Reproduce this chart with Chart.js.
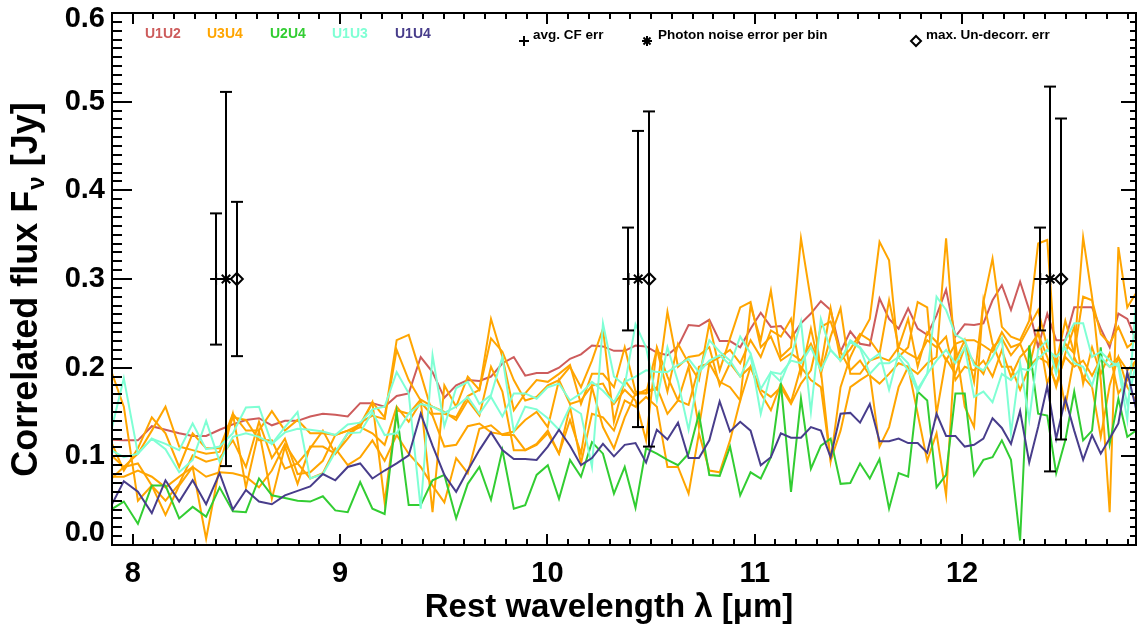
<!DOCTYPE html>
<html>
<head>
<meta charset="utf-8">
<script src="https://cdn.jsdelivr.net/npm/chart.js@4.4.1/dist/chart.umd.min.js"></script>
<style>
  html, body { margin: 0; padding: 0; background: #fff; overflow: hidden; }
  #wrap { width: 1138px; height: 630px; position: relative; }
  canvas { display: block; }
</style>
</head>
<body>
<div id="wrap"><canvas id="chart"></canvas></div>
<script>
// rest wavelength grid (micron), shared by all baselines
const wavelength = [
  7.889, 7.957, 8.025, 8.092, 8.158, 8.224, 8.289, 8.354, 8.419, 8.483,
  8.546, 8.609, 8.671, 8.734, 8.795, 8.856, 8.917, 8.977, 9.037, 9.097,
  9.156, 9.215, 9.273, 9.331, 9.389, 9.446, 9.503, 9.560, 9.616, 9.672,
  9.728, 9.783, 9.838, 9.893, 9.948, 10.002, 10.056, 10.109, 10.162, 10.215,
  10.268, 10.321, 10.373, 10.425, 10.476, 10.528, 10.579, 10.630, 10.681, 10.731,
  10.781, 10.831, 10.881, 10.930, 10.980, 11.029, 11.078, 11.126, 11.175, 11.223,
  11.271, 11.319, 11.366, 11.414, 11.461, 11.508, 11.555, 11.602, 11.648, 11.694,
  11.740, 11.786, 11.832, 11.877, 11.923, 11.968, 12.013, 12.058, 12.103, 12.147,
  12.192, 12.236, 12.280, 12.324, 12.367, 12.411, 12.454, 12.498, 12.541, 12.584,
  12.627, 12.669, 12.712, 12.754, 12.797, 12.839, 12.881
];

const u1u2 = [
  0.119, 0.118, 0.118, 0.134, 0.130, 0.126, 0.123, 0.123, 0.130, 0.136,
  0.141, 0.143, 0.135, 0.140, 0.140, 0.145, 0.148, 0.147, 0.145, 0.160,
  0.160, 0.156, 0.168, 0.171, 0.212, 0.195, 0.166, 0.180, 0.186, 0.185,
  0.190, 0.205, 0.212, 0.191, 0.194, 0.194, 0.200, 0.210, 0.215, 0.225,
  0.224, 0.219, 0.219, 0.225, 0.224, 0.217, 0.214, 0.224, 0.248, 0.247,
  0.254, 0.230, 0.230, 0.223, 0.244, 0.262, 0.246, 0.247, 0.233, 0.250,
  0.261, 0.275, 0.265, 0.218, 0.241, 0.227, 0.225, 0.278, 0.255, 0.244,
  0.267, 0.244, 0.237, 0.259, 0.288, 0.235, 0.249, 0.248, 0.250, 0.276,
  0.293, 0.265, 0.297, 0.265, 0.223, 0.261, 0.231, 0.231, 0.268, 0.268,
  0.268, 0.244, 0.223, 0.261, 0.255, 0.231, 0.235
];

// five U3U4 spectra
const u3u4a = [
  0.201, 0.156, 0.050, 0.067, 0.034, 0.067, 0.088, 0.007, 0.088, 0.148, 0.065, 0.129, 0.052, 0.111, 0.069, 0.111,
  0.111, 0.103, 0.120, 0.138, 0.146, 0.142, 0.220, 0.186, 0.163, 0.037, 0.180, 0.156, 0.190, 0.175, 0.233, 0.218, 0.186,
  0.163, 0.167, 0.180, 0.186, 0.201, 0.178, 0.208, 0.244, 0.139, 0.186, 0.169, 0.175, 0.175, 0.263, 0.201, 0.212, 0.214, 0.223, 0.180, 0.205,
  0.190, 0.201, 0.175, 0.167, 0.178, 0.159, 0.182, 0.197, 0.246, 0.252, 0.218, 0.197, 0.208, 0.191, 0.182, 0.193, 0.205, 0.201, 0.193, 0.205, 0.212,
  0.346, 0.208, 0.231, 0.184, 0.274, 0.323, 0.246, 0.235, 0.231, 0.253, 0.340, 0.344, 0.199, 0.227, 0.216, 0.347, 0.280, 0.186, 0.037, 0.336, 0.268, 0.284, 0.261
];
const u3u4b = [
  0.120, 0.084, 0.109, 0.144, 0.126, 0.088, 0.126, 0.109, 0.109, 0.148, 0.129, 0.129, 0.151, 0.129, 0.141, 0.126,
  0.126, 0.124, 0.129, 0.136, 0.161, 0.144, 0.231, 0.237, 0.193, 0.148, 0.148, 0.144, 0.168, 0.175, 0.255, 0.212, 0.152,
  0.171, 0.186, 0.184, 0.193, 0.203, 0.159, 0.193, 0.193, 0.178, 0.223, 0.173, 0.171, 0.221, 0.173, 0.227, 0.205, 0.186, 0.250, 0.197, 0.233,
  0.268, 0.274, 0.223, 0.235, 0.208, 0.216, 0.208, 0.227, 0.201, 0.267, 0.208, 0.221, 0.238, 0.231, 0.216, 0.276, 0.223, 0.255, 0.201, 0.240, 0.229,
  0.208, 0.227, 0.231, 0.231, 0.225, 0.218, 0.240, 0.223, 0.227, 0.246, 0.265, 0.223, 0.205, 0.253, 0.216, 0.280, 0.276, 0.238, 0.227, 0.246, 0.223, 0.231, 0.246
];
const u3u4c = [
  0.103, 0.088, 0.103, 0.129, 0.156, 0.111, 0.107, 0.103, 0.105, 0.144, 0.141, 0.118, 0.118, 0.086, 0.092, 0.109,
  0.129, 0.103, 0.126, 0.133, 0.161, 0.048, 0.152, 0.148, 0.164, 0.156, 0.150, 0.141, 0.163, 0.146, 0.201, 0.173, 0.107,
  0.107, 0.113, 0.126, 0.103, 0.156, 0.092, 0.148, 0.144, 0.129, 0.163, 0.156, 0.167, 0.156, 0.088, 0.088, 0.058, 0.126, 0.084, 0.082, 0.118,
  0.163, 0.201, 0.171, 0.152, 0.182, 0.161, 0.201, 0.186, 0.178, 0.095, 0.129, 0.178, 0.186, 0.193, 0.111, 0.133, 0.178, 0.201, 0.148, 0.095, 0.126,
  0.056, 0.227, 0.156, 0.133, 0.276, 0.227, 0.201, 0.201, 0.175, 0.201, 0.242, 0.182, 0.212, 0.156, 0.212, 0.190, 0.178, 0.122, 0.180, 0.212, 0.178, 0.163, 0.171
];
const u3u4d = [
  0.077, 0.077, 0.084, 0.077, 0.065, 0.077, 0.088, 0.077, 0.082, 0.081, 0.077, 0.065, 0.084, 0.114, 0.092, 0.075,
  0.081, 0.109, 0.090, 0.099, 0.118, 0.095, 0.124, 0.103, 0.088, 0.067, 0.048, 0.098, 0.081, 0.131, 0.135, 0.124, 0.124,
  0.107, 0.114, 0.129, 0.103, 0.141, 0.103, 0.178, 0.133, 0.109, 0.144, 0.171, 0.171, 0.178, 0.148, 0.163, 0.201, 0.133, 0.205, 0.184, 0.178,
  0.163, 0.270, 0.231, 0.287, 0.212, 0.223, 0.346, 0.276, 0.197, 0.095, 0.178, 0.212, 0.235, 0.255, 0.342, 0.321, 0.212, 0.223, 0.274, 0.268, 0.148,
  0.210, 0.193, 0.223, 0.206, 0.193, 0.223, 0.233, 0.214, 0.227, 0.201, 0.212, 0.206, 0.182, 0.212, 0.201, 0.208, 0.191, 0.210, 0.201, 0.212, 0.197, 0.208, 0.210
];
const u3u4e = [
  0.073, 0.088, 0.092, 0.067, 0.050, 0.069, 0.101, 0.094, 0.098, 0.118, 0.088, 0.139, 0.098, 0.120, 0.080, 0.082,
  0.095, 0.124, 0.129, 0.133, 0.126, 0.113, 0.156, 0.139, 0.161, 0.146, 0.111, 0.113, 0.134, 0.137, 0.127, 0.125, 0.128,
  0.141, 0.150, 0.133, 0.186, 0.159, 0.163, 0.180, 0.182, 0.159, 0.175, 0.163, 0.118, 0.223, 0.190, 0.163, 0.158, 0.201, 0.205, 0.212, 0.220,
  0.205, 0.231, 0.212, 0.242, 0.235, 0.255, 0.193, 0.244, 0.193, 0.235, 0.267, 0.193, 0.193, 0.208, 0.212, 0.208, 0.223, 0.216, 0.210, 0.231, 0.223,
  0.235, 0.186, 0.201, 0.197, 0.208, 0.190, 0.220, 0.190, 0.212, 0.223, 0.238, 0.212, 0.178, 0.216, 0.246, 0.182, 0.223, 0.193, 0.216, 0.171, 0.186, 0.208, 0.201
];

const u2u4 = [
  0.039, 0.049, 0.024, 0.067, 0.067, 0.030, 0.043, 0.032, 0.065, 0.038,
  0.037, 0.075, 0.056, 0.053, 0.050, 0.049, 0.055, 0.039, 0.037, 0.071,
  0.041, 0.035, 0.150, 0.045, 0.045, 0.073, 0.079, 0.030, 0.069, 0.088,
  0.051, 0.107, 0.041, 0.045, 0.079, 0.090, 0.052, 0.096, 0.077, 0.116,
  0.103, 0.058, 0.088, 0.042, 0.109, 0.103, 0.096, 0.090, 0.103, 0.148,
  0.079, 0.078, 0.111, 0.056, 0.082, 0.075, 0.099, 0.182, 0.060, 0.165,
  0.086, 0.112, 0.120, 0.069, 0.070, 0.092, 0.075, 0.097, 0.041, 0.081,
  0.077, 0.173, 0.163, 0.065, 0.079, 0.171, 0.171, 0.079, 0.096, 0.099,
  0.118, 0.096, 0.005, 0.225, 0.148, 0.146, 0.081, 0.118, 0.173, 0.118,
  0.129, 0.223, 0.114, 0.165, 0.122, 0.129, 0.148
];

const u1u3a = [
  0.122, 0.188, 0.103, 0.120, 0.114, 0.107, 0.137, 0.108, 0.111, 0.126,
  0.155, 0.156, 0.114, 0.127, 0.131, 0.130, 0.128, 0.124, 0.136, 0.138,
  0.153, 0.156, 0.195, 0.171, 0.041, 0.214, 0.134, 0.177, 0.184, 0.159,
  0.169, 0.212, 0.128, 0.156, 0.153, 0.143, 0.130, 0.156, 0.148, 0.088,
  0.250, 0.190, 0.180, 0.249, 0.223, 0.163, 0.223, 0.184, 0.130, 0.193,
  0.231, 0.218, 0.208, 0.190, 0.214, 0.148, 0.195, 0.184, 0.212, 0.252,
  0.150, 0.255, 0.220, 0.208, 0.231, 0.223, 0.208, 0.216, 0.175, 0.216,
  0.205, 0.176, 0.193, 0.280, 0.265, 0.237, 0.231, 0.203, 0.197, 0.212,
  0.233, 0.126, 0.205, 0.141, 0.220, 0.231, 0.193, 0.231, 0.250, 0.250,
  0.212, 0.218, 0.208, 0.201, 0.141, 0.274, 0.261
];
const u1u3b = [
  0.108, 0.099, 0.103, 0.120, 0.108, 0.082, 0.096, 0.140, 0.094, 0.122,
  0.126, 0.122, 0.114, 0.133, 0.150, 0.075, 0.080, 0.105, 0.126, 0.127,
  0.150, 0.124, 0.126, 0.148, 0.159, 0.156, 0.149, 0.156, 0.167, 0.148,
  0.167, 0.145, 0.171, 0.171, 0.165, 0.178, 0.182, 0.163, 0.171, 0.184,
  0.174, 0.161, 0.184, 0.190, 0.197, 0.195, 0.195, 0.203, 0.210, 0.195,
  0.208, 0.214, 0.203, 0.235, 0.216, 0.176, 0.195, 0.193, 0.208, 0.205,
  0.223, 0.197, 0.220, 0.208, 0.229, 0.222, 0.193, 0.205, 0.205, 0.212,
  0.197, 0.173, 0.193, 0.208, 0.220, 0.205, 0.223, 0.167, 0.173, 0.161,
  0.193, 0.186, 0.199, 0.197, 0.210, 0.220, 0.212, 0.222, 0.205, 0.201,
  0.180, 0.212, 0.201, 0.205, 0.159, 0.205, 0.197
];

const u1u4 = [
  0.041, 0.072, 0.060, 0.036, 0.073, 0.049, 0.073, 0.046, 0.081, 0.040,
  0.062, 0.049, 0.046, 0.056, 0.061, 0.066, 0.080, 0.073, 0.088, 0.092,
  0.075, 0.084, 0.092, 0.101, 0.148, 0.112, 0.079, 0.060, 0.084, 0.107,
  0.127, 0.107, 0.097, 0.097, 0.096, 0.111, 0.130, 0.112, 0.090, 0.098,
  0.114, 0.100, 0.113, 0.115, 0.093, 0.130, 0.119, 0.138, 0.098, 0.098,
  0.118, 0.162, 0.128, 0.139, 0.129, 0.090, 0.099, 0.126, 0.121, 0.121,
  0.133, 0.129, 0.099, 0.148, 0.149, 0.138, 0.159, 0.117, 0.117, 0.120,
  0.115, 0.115, 0.104, 0.148, 0.123, 0.123, 0.111, 0.113, 0.120, 0.143,
  0.132, 0.114, 0.151, 0.093, 0.133, 0.179, 0.120, 0.165, 0.129, 0.096,
  0.124, 0.103, 0.120, 0.137, 0.195, 0.154, 0.126
];

// error markers: avg. CF err (+), photon noise (*), max. un-decorrelated err (diamond)
const markerY = [0.3, 0.3, 0.3];
const cfX = [8.402, 10.391, 12.377];
const cfErr = [0.074, 0.058, 0.058];
const phX = [8.450, 10.438, 12.425];
const phErr = [0.211, 0.167, 0.217];
const ucX = [8.502, 10.491, 12.478];
const ucErr = [0.087, 0.189, 0.181];

const xTicks = [8, 9, 10, 11, 12];
const yTicks = [0, 0.1, 0.2, 0.3, 0.4, 0.5, 0.6];

const baselineNames = ['U1U2', 'U3U4', 'U2U4', 'U1U3', 'U1U4'];
const baselineColors = ['#cd5c5c', '#ffa500', '#32cd32', '#7fffd4', '#483d8b'];
const errNames = ['avg. CF err', 'Photon noise error per bin', 'max. Un-decorr. err'];

const FONT = "'Liberation Sans', Arial, Helvetica, sans-serif";

const pts = arr => wavelength.map((w, i) => ({ x: w, y: arr[i] }));
const spec = (arr, color) => ({
  data: pts(arr), borderColor: color, borderWidth: 2,
  pointRadius: 0, fill: false, tension: 0
});
const marks = (xs, style, r) => ({
  data: xs.map((x, i) => ({ x: x, y: markerY[i] })),
  showLine: false, pointStyle: style, pointRadius: r,
  pointBorderColor: '#000', pointBackgroundColor: 'rgba(0,0,0,0)', pointBorderWidth: 2
});

// first dataset ends up on top in Chart.js
const datasets = [
  marks(cfX, 'cross', 6),
  marks(phX, 'star', 6),
  marks(ucX, 'rectRot', 6),
  spec(u1u4, baselineColors[4]),
  spec(u1u3a, baselineColors[3]),
  spec(u1u3b, baselineColors[3]),
  spec(u2u4, baselineColors[2]),
  spec(u3u4a, baselineColors[1]),
  spec(u3u4b, baselineColors[1]),
  spec(u3u4c, baselineColors[1]),
  spec(u3u4d, baselineColors[1]),
  spec(u3u4e, baselineColors[1]),
  spec(u1u2, baselineColors[0])
];

function seg(ctx, x1, y1, x2, y2) {
  ctx.beginPath(); ctx.moveTo(x1, y1); ctx.lineTo(x2, y2); ctx.stroke();
}

const decorations = {
  id: 'decorations',
  afterDatasetsDraw(chart) {
    const { ctx, chartArea: a, scales: { x, y } } = chart;
    ctx.save();
    ctx.strokeStyle = '#000';
    ctx.lineWidth = 2;

    // error bars
    [[cfX, cfErr], [phX, phErr], [ucX, ucErr]].forEach(([xs, errs]) => {
      xs.forEach((xv, i) => {
        const px = Math.round(x.getPixelForValue(xv));
        const t = y.getPixelForValue(markerY[i] + errs[i]);
        const b = y.getPixelForValue(markerY[i] - errs[i]);
        seg(ctx, px, t, px, b);
        seg(ctx, px - 6, t, px + 6, t);
        seg(ctx, px - 6, b, px + 6, b);
      });
    });

    // frame
    ctx.strokeRect(a.left, a.top, a.right - a.left, a.bottom - a.top);

    // inward ticks, x: every 0.1, major at integers
    for (let i = 79; i <= 128; i++) {
      const px = Math.round(x.getPixelForValue(i / 10));
      if (px <= a.left + 1 || px >= a.right - 1) continue;
      const len = i % 10 === 0 ? 11 : 6;
      seg(ctx, px, a.bottom, px, a.bottom - len);
      seg(ctx, px, a.top, px, a.top + len);
    }
    // y: every 0.01, major every 0.1
    for (let i = 1; i < 60; i++) {
      const py = Math.round(y.getPixelForValue(i / 100));
      const major = i % 10 === 0;
      seg(ctx, a.left, py, a.left + (major ? 20 : 10), py);
      seg(ctx, a.right, py, a.right - (major ? 15 : 6), py);
    }

    // y tick labels
    ctx.fillStyle = '#000';
    ctx.font = 'bold 29px ' + FONT;
    ctx.textAlign = 'right';
    ctx.textBaseline = 'middle';
    yTicks.forEach(v => {
      let py = y.getPixelForValue(v);
      py = Math.min(Math.max(py, a.top + 6), a.bottom - 12);
      ctx.fillText(v.toFixed(1), a.left - 7, py);
    });

    // baseline legend
    ctx.font = 'bold 14px ' + FONT;
    ctx.textAlign = 'left';
    const legX = [145, 207, 270, 332, 395];
    baselineNames.forEach((n, i) => {
      ctx.fillStyle = baselineColors[i];
      ctx.fillText(n, legX[i], 34);
    });

    // error legend
    ctx.fillStyle = '#000';
    ctx.font = 'bold 13.5px ' + FONT;
    const symX = [524, 647, 916];
    const txtX = [533, 658, 926];
    errNames.forEach((n, i) => ctx.fillText(n, txtX[i], 35));
    const sy = 41, r = 5;
    seg(ctx, symX[0] - r, sy, symX[0] + r, sy);
    seg(ctx, symX[0], sy - r, symX[0], sy + r);
    seg(ctx, symX[1] - r, sy, symX[1] + r, sy);
    seg(ctx, symX[1], sy - r, symX[1], sy + r);
    seg(ctx, symX[1] - 3.5, sy - 3.5, symX[1] + 3.5, sy + 3.5);
    seg(ctx, symX[1] - 3.5, sy + 3.5, symX[1] + 3.5, sy - 3.5);
    ctx.beginPath();
    ctx.moveTo(symX[2], sy - r); ctx.lineTo(symX[2] + r, sy);
    ctx.lineTo(symX[2], sy + r); ctx.lineTo(symX[2] - r, sy); ctx.closePath();
    ctx.stroke();

    // axis titles
    ctx.font = 'bold 33px ' + FONT;
    ctx.textAlign = 'center';
    ctx.textBaseline = 'alphabetic';
    ctx.fillText('Rest wavelength \u03BB [\u03BCm]', 609, 617);

    ctx.translate(37, 290);
    ctx.rotate(-Math.PI / 2);
    const p1 = 'Correlated flux F', p2 = '\u03BD', p3 = ' [Jy]';
    const big = 'bold 36px ' + FONT, small = 'bold 24px ' + FONT;
    ctx.font = big;
    const w1 = ctx.measureText(p1).width, w3 = ctx.measureText(p3).width;
    ctx.font = small;
    const w2 = ctx.measureText(p2).width;
    const sx = -(w1 + w2 + w3) / 2;
    ctx.textAlign = 'left';
    ctx.font = big;
    ctx.fillText(p1, sx, 0);
    ctx.font = small;
    ctx.fillText(p2, sx + w1 + 1, 7);
    ctx.font = big;
    ctx.fillText(p3, sx + w1 + w2 + 1, 0);
    ctx.restore();
  }
};

new Chart(document.getElementById('chart'), {
  type: 'line',
  data: { datasets: datasets },
  options: {
    responsive: true,
    maintainAspectRatio: false,
    animation: false,
    layout: { autoPadding: false, padding: { top: 13, right: 2, left: 0, bottom: 0 } },
    plugins: { legend: { display: false }, tooltip: { enabled: false } },
    scales: {
      x: {
        type: 'linear', min: 7.9, max: 12.839,
        grid: { display: false, drawTicks: false },
        border: { display: false },
        ticks: { font: { family: FONT, size: 29, weight: 'bold' }, color: '#000', padding: 12, maxRotation: 0 },
        afterBuildTicks: s => { s.ticks = xTicks.map(v => ({ value: v })); },
        afterFit: s => { s.height = 85; }
      },
      y: {
        type: 'linear', min: 0, max: 0.6,
        grid: { display: false, drawTicks: false },
        border: { display: false },
        ticks: { display: false },
        afterBuildTicks: s => { s.ticks = yTicks.map(v => ({ value: v })); },
        afterFit: s => { s.width = 112; }
      }
    }
  },
  plugins: [decorations]
});
</script>
</body>
</html>
